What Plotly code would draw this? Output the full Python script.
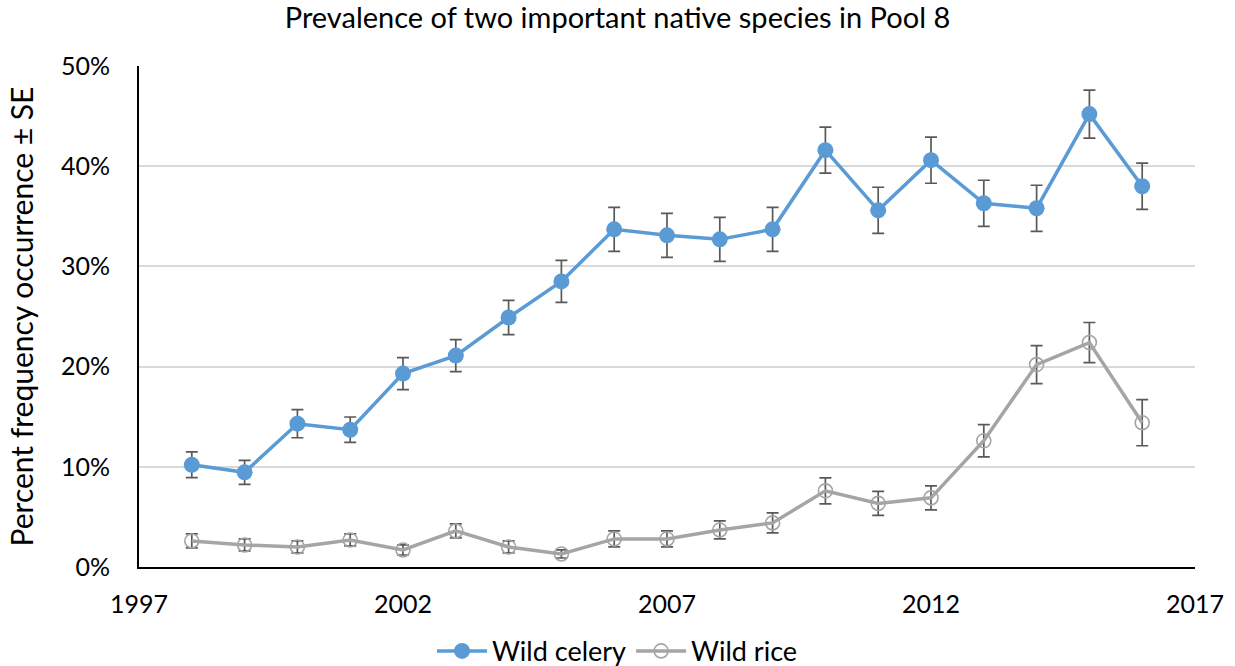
import plotly.graph_objects as go

years = list(range(1998, 2017))

celery = [10.2, 9.45, 14.3, 13.7, 19.3, 21.1, 24.9, 28.5, 33.7, 33.1, 32.7, 33.7,
          41.6, 35.6, 40.6, 36.3, 35.8, 45.2, 38.0]
celery_se = [1.28, 1.2, 1.4, 1.27, 1.6, 1.6, 1.7, 2.1, 2.2, 2.2, 2.2, 2.2,
             2.3, 2.3, 2.3, 2.3, 2.3, 2.4, 2.3]

rice = [2.6, 2.2, 2.0, 2.7, 1.7, 3.6, 2.0, 1.3, 2.8, 2.8, 3.7, 4.4,
        7.6, 6.35, 6.9, 12.6, 20.2, 22.4, 14.4]
rice_se = [0.7, 0.6, 0.6, 0.6, 0.5, 0.7, 0.6, 0.4, 0.8, 0.8, 0.9, 1.0,
           1.3, 1.2, 1.2, 1.6, 1.9, 2.0, 2.3]

x_ticks = [1997, 2002, 2007, 2012, 2017]
y_ticks = [0, 0.1, 0.2, 0.3, 0.4, 0.5]

FONT = "Lato, 'Open Sans', sans-serif"
ERR_COLOR = "#595959"

def pct(vals):
    return [v / 100 for v in vals]

fig = go.Figure()

fig.add_trace(go.Scatter(
    x=years, y=pct(celery), name="Wild celery", mode="lines+markers",
    line=dict(color="#5B9BD5", width=3.5),
    marker=dict(color="#5B9BD5", size=16, symbol="circle"),
    error_y=dict(type="data", array=pct(celery_se), visible=True,
                 color=ERR_COLOR, thickness=1.7, width=6),
))

fig.add_trace(go.Scatter(
    x=years, y=pct(rice), name="Wild rice", mode="lines+markers",
    line=dict(color="#A5A5A5", width=3.5),
    marker=dict(color="#A5A5A5", size=14, symbol="circle-open", line=dict(width=1.6)),
    error_y=dict(type="data", array=pct(rice_se), visible=True,
                 color=ERR_COLOR, thickness=1.7, width=6),
))

fig.update_layout(
    width=1235, height=666,
    margin=dict(l=139, r=40, t=66, b=99, autoexpand=False),
    paper_bgcolor="white", plot_bgcolor="white",
    font=dict(family=FONT, size=25, color="#000000"),
    title=dict(text="Prevalence of two important native species in Pool 8",
               x=0.5, xref="container", xanchor="center",
               y=0.988, yref="container", yanchor="top",
               font=dict(family=FONT, size=29, color="#000000")),
    showlegend=True,
    legend=dict(orientation="h", x=0.5, xref="container", xanchor="center",
                y=0.022, yref="container", yanchor="middle",
                font=dict(family=FONT, size=27, color="#000000"),
                itemwidth=50, tracegroupgap=0),
)

fig.update_xaxes(
    range=[1997, 2017], tickvals=x_ticks, ticktext=[str(t) for t in x_ticks],
    showgrid=False, zeroline=False, automargin=False,
    showline=True, linecolor="#000000", linewidth=2,
    ticks="", ticklabelstandoff=14,
    tickfont=dict(family=FONT, size=25, color="#000000"),
)

fig.update_yaxes(
    range=[0, 0.5], tickvals=y_ticks, tickformat=".0%",
    showgrid=True, gridcolor="#D9D9D9", gridwidth=1.5,
    zeroline=False, showline=True, linecolor="#000000", linewidth=2,
    automargin=False, ticks="", ticklabelstandoff=22,
    tickfont=dict(family=FONT, size=25, color="#000000"),
    title=dict(text="Percent frequency occurrence ± SE",
               font=dict(family=FONT, size=30, color="#000000"), standoff=18),
)

fig.write_html("out.html")
